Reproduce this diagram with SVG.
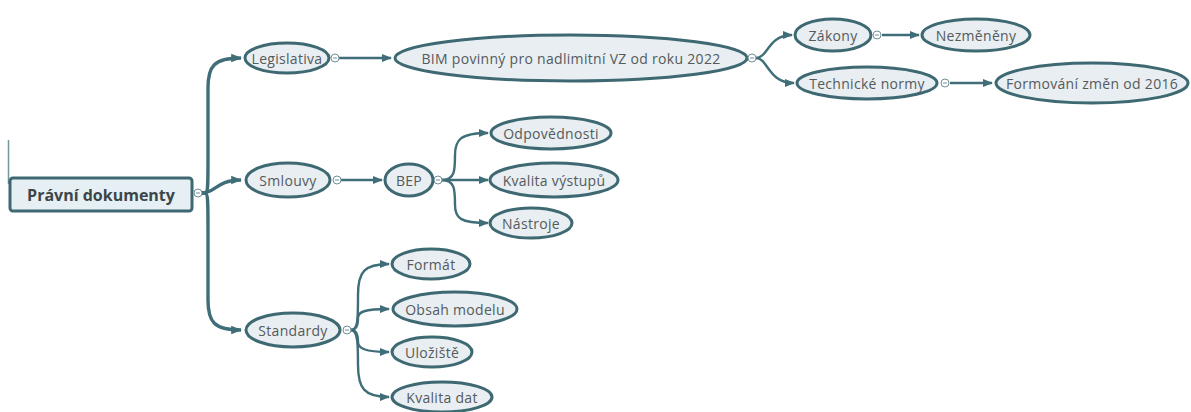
<svg xmlns="http://www.w3.org/2000/svg" width="1191" height="412" viewBox="0 0 1191 412">
  <style>
    .node { fill: #e8eef1; stroke: #3e6972; stroke-width: 3; }
    .root { fill: #e6f0f4; stroke: #3e6972; stroke-width: 3; }
    .lbl { font-family: "Open Sans", "DejaVu Sans", sans-serif; font-size: 14px; letter-spacing: 0.3px; fill: #555a5d; text-anchor: middle; dominant-baseline: central; }
    .rootlbl { font-family: "Open Sans", "DejaVu Sans", sans-serif; font-size: 16px; font-weight: bold; fill: #3c4649; text-anchor: middle; dominant-baseline: central; }
    .edge { fill: none; stroke: #3f6e78; stroke-width: 2.4; }
    .trunk { fill: none; stroke: #3f6e78; stroke-width: 3.4; }
    .toggle { fill: #ffffff; stroke: #6f8f97; stroke-width: 1; }
    .minus { stroke: #6f8f97; stroke-width: 1; }
  </style>
  <defs>
    <marker id="arrow" viewBox="0 0 10 10" refX="9" refY="5" markerWidth="4.2" markerHeight="4.2" orient="auto" markerUnits="strokeWidth">
      <path d="M0,1 L10,5 L0,9 z" fill="#3f6e78"/>
    </marker>
    <marker id="arrow-trunk" viewBox="0 0 10 10" refX="9" refY="5" markerWidth="3.2" markerHeight="3.2" orient="auto" markerUnits="strokeWidth">
      <path d="M0,1 L10,5 L0,9 z" fill="#3f6e78"/>
    </marker>
  </defs>

  <rect width="1191" height="412" fill="#ffffff"/>
  <!-- edge mark at the left border -->
  <line x1="8.5" y1="140" x2="8.5" y2="184" stroke="#3f6b75" stroke-width="1.5" opacity="0.7"/>

  <g id="connectors">
    <!-- root trunk -->
    <path class="trunk" d="M202,193 H205 C208,193 208,185 208,160 V88 C208,66 214,58 241,58" marker-end="url(#arrow-trunk)"/>
    <path class="trunk" d="M202,193 C216,193 216,180 241,180" marker-end="url(#arrow-trunk)"/>
    <path class="trunk" d="M202,193 H205 C208,193 208,202 208,230 V300 C208,322 214,330 241,330" marker-end="url(#arrow-trunk)"/>
    <!-- Legislativa branch -->
    <path class="edge" d="M339,58 H391" marker-end="url(#arrow)"/>
    <path class="edge" d="M756,58 C768,58 768,35 792,35" marker-end="url(#arrow)"/>
    <path class="edge" d="M756,58 C768,58 768,83 794,83" marker-end="url(#arrow)"/>
    <path class="edge" d="M882,35 H919" marker-end="url(#arrow)"/>
    <path class="edge" d="M950,83 H992" marker-end="url(#arrow)"/>
    <!-- Smlouvy branch -->
    <path class="edge" d="M341,180 H382" marker-end="url(#arrow)"/>
    <path class="edge" d="M442,180 C455,180 455,170 455,155 C455,140 460,133 488,133" marker-end="url(#arrow)"/>
    <path class="edge" d="M442,180 H488" marker-end="url(#arrow)"/>
    <path class="edge" d="M442,180 C455,180 455,190 455,205 C455,218 460,223 488,223" marker-end="url(#arrow)"/>
    <!-- Standardy branch -->
    <path class="edge" d="M351,330 C358,330 358,320 358,295 C358,272 364,264 389,264" marker-end="url(#arrow)"/>
    <path class="edge" d="M351,330 C358,330 358,322 358,318 C358,312 364,309 389,309" marker-end="url(#arrow)"/>
    <path class="edge" d="M351,330 C358,330 358,338 358,342 C358,348 364,352 389,352" marker-end="url(#arrow)"/>
    <path class="edge" d="M351,330 C358,330 358,345 358,365 C358,388 364,397 389,397" marker-end="url(#arrow)"/>
  </g>

  <g id="root">
    <rect class="root" x="10" y="178" width="182" height="33" rx="3"/>
    <text class="rootlbl" x="101" y="194.5">Právní dokumenty</text>
    <circle class="toggle" cx="198" cy="193" r="4"/>
    <line class="minus" x1="196" y1="193" x2="200" y2="193"/>
  </g>

  <g id="legislativa">
    <ellipse class="node" cx="287" cy="58" rx="42" ry="15"/>
    <text class="lbl" x="287" y="58">Legislativa</text>
    <circle class="toggle" cx="335" cy="58" r="4"/>
    <line class="minus" x1="333" y1="58" x2="337" y2="58"/>
  </g>
  <g id="bim">
    <ellipse class="node" cx="571" cy="58" rx="176" ry="23"/>
    <text class="lbl" x="571" y="58">BIM povinný pro nadlimitní VZ od roku 2022</text>
    <circle class="toggle" cx="752" cy="58" r="4"/>
    <line class="minus" x1="750" y1="58" x2="754" y2="58"/>
  </g>
  <g id="zakony">
    <ellipse class="node" cx="833" cy="35" rx="38" ry="16"/>
    <text class="lbl" x="833" y="35">Zákony</text>
    <circle class="toggle" cx="877" cy="35" r="4"/>
    <line class="minus" x1="875" y1="35" x2="879" y2="35"/>
  </g>
  <g id="nezmeneny">
    <ellipse class="node" cx="976" cy="35" rx="54" ry="16"/>
    <text class="lbl" x="976" y="35">Nezměněny</text>
  </g>
  <g id="technicke-normy">
    <ellipse class="node" cx="867" cy="83" rx="70" ry="16"/>
    <text class="lbl" x="867" y="83">Technické normy</text>
    <circle class="toggle" cx="945" cy="83" r="4"/>
    <line class="minus" x1="943" y1="83" x2="947" y2="83"/>
  </g>
  <g id="formovani">
    <ellipse class="node" cx="1092" cy="83" rx="96" ry="20"/>
    <text class="lbl" x="1092" y="83">Formování změn od 2016</text>
  </g>

  <g id="smlouvy">
    <ellipse class="node" cx="288" cy="180" rx="42" ry="17"/>
    <text class="lbl" x="288" y="180">Smlouvy</text>
    <circle class="toggle" cx="337" cy="180" r="4"/>
    <line class="minus" x1="335" y1="180" x2="339" y2="180"/>
  </g>
  <g id="bep">
    <ellipse class="node" cx="409" cy="180" rx="24" ry="16"/>
    <text class="lbl" x="409" y="180">BEP</text>
    <circle class="toggle" cx="438" cy="180" r="4"/>
    <line class="minus" x1="436" y1="180" x2="440" y2="180"/>
  </g>
  <g id="odpovednosti">
    <ellipse class="node" cx="551" cy="133" rx="60" ry="16"/>
    <text class="lbl" x="551" y="133">Odpovědnosti</text>
  </g>
  <g id="kvalita-vystupu">
    <ellipse class="node" cx="554" cy="180" rx="64" ry="17"/>
    <text class="lbl" x="554" y="180">Kvalita výstupů</text>
  </g>
  <g id="nastroje">
    <ellipse class="node" cx="531" cy="223" rx="41" ry="15"/>
    <text class="lbl" x="531" y="223">Nástroje</text>
  </g>

  <g id="standardy">
    <ellipse class="node" cx="293" cy="330" rx="47" ry="17"/>
    <text class="lbl" x="293" y="330">Standardy</text>
    <circle class="toggle" cx="347" cy="330" r="4"/>
    <line class="minus" x1="345" y1="330" x2="349" y2="330"/>
  </g>
  <g id="format">
    <ellipse class="node" cx="431" cy="264" rx="39" ry="15"/>
    <text class="lbl" x="431" y="264">Formát</text>
  </g>
  <g id="obsah-modelu">
    <ellipse class="node" cx="455" cy="309" rx="62" ry="17"/>
    <text class="lbl" x="455" y="309">Obsah modelu</text>
  </g>
  <g id="ulozište">
    <ellipse class="node" cx="432" cy="352" rx="40" ry="15"/>
    <text class="lbl" x="432" y="352">Uložiště</text>
  </g>
  <g id="kvalita-dat">
    <ellipse class="node" cx="442" cy="397" rx="50" ry="15"/>
    <text class="lbl" x="442" y="397">Kvalita dat</text>
  </g>
</svg>
